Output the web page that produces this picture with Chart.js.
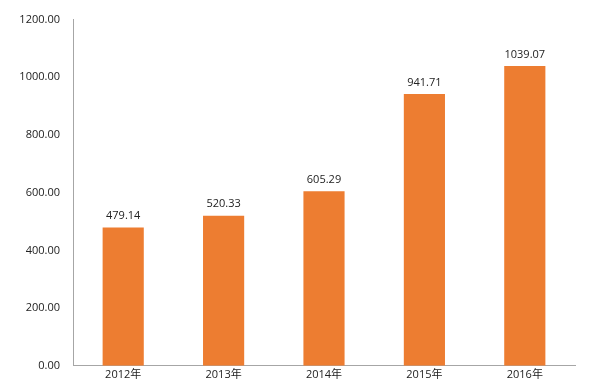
<!DOCTYPE html>
<html>
<head>
<meta charset="utf-8">
<script src="https://cdn.jsdelivr.net/npm/chart.js@4"></script>
<style>
  html, body { margin: 0; padding: 0; background: #fff; }
  #wrap { width: 600px; height: 390px; }
</style>
</head>
<body>
<div id="wrap"><canvas id="bar_chart"></canvas></div>
<script>
const years = ['2012年', '2013年', '2014年', '2015年', '2016年'];
const values = [479.14, 520.33, 605.29, 941.71, 1039.07];
const yTicks = [0, 200, 400, 600, 800, 1000, 1200];

const fontFamily = '"Open Sans", "Noto Sans CJK SC", sans-serif';

// draws the numbers above each bar
const barLabels = {
  id: 'barLabels',
  afterDatasetsDraw(chart) {
    const ctx = chart.ctx;
    const meta = chart.getDatasetMeta(0);
    ctx.save();
    ctx.font = '11px ' + fontFamily;
    ctx.fillStyle = '#222';
    ctx.textAlign = 'center';
    ctx.textBaseline = 'bottom';
    meta.data.forEach((bar, i) => {
      ctx.fillText(values[i].toFixed(2), bar.x, bar.y - 6);
    });
    ctx.restore();
  }
};

const ctx = document.getElementById('bar_chart');
new Chart(ctx, {
  type: 'bar',
  data: {
    labels: years,
    datasets: [{
      data: values,
      backgroundColor: '#ED7D31',
      categoryPercentage: 1,
      barPercentage: 0.41
    }]
  },
  options: {
    responsive: true,
    maintainAspectRatio: false,
    animation: false,
    layout: { padding: { top: 14, right: 25, bottom: 7, left: 0 } },
    plugins: {
      legend: { display: false },
      tooltip: { enabled: false }
    },
    scales: {
      x: {
        grid: { display: false, drawTicks: false },
        border: { color: '#a6a6a6' },
        ticks: {
          padding: 2,
          color: '#222',
          font: { family: fontFamily, size: 11 }
        }
      },
      y: {
        min: 0,
        max: 1200,
        afterFit: (s) => { s.width = 73; },
        afterBuildTicks: (s) => { s.ticks = yTicks.map(v => ({ value: v })); },
        grid: { display: false, drawTicks: false },
        border: { color: '#a6a6a6' },
        ticks: {
          padding: 13,
          color: '#222',
          font: { family: fontFamily, size: 11 },
          callback: (v) => Number(v).toFixed(2)
        }
      }
    }
  },
  plugins: [barLabels]
});
</script>
</body>
</html>
